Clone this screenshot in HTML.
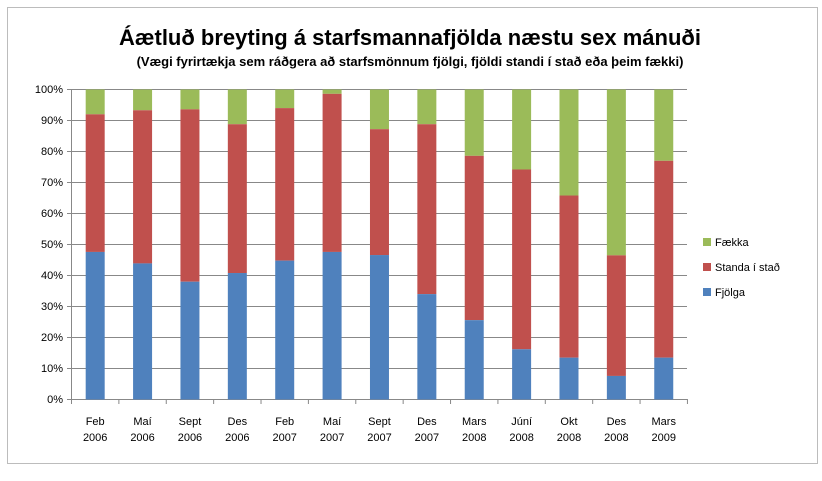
<!DOCTYPE html>
<html><head><meta charset="utf-8"><style>
body{margin:0;background:#fff;width:822px;height:476px;overflow:hidden;font-family:"Liberation Sans",sans-serif}
</style></head><body>
<svg width="822" height="476" xmlns="http://www.w3.org/2000/svg" font-family="Liberation Sans, sans-serif">
<rect x="7.5" y="7.5" width="810" height="456" fill="#fff" stroke="#bcbcbc"/>
<text x="410" y="45" text-anchor="middle" font-size="22" font-weight="bold" fill="#000">Áætluð breyting á starfsmannafjölda næstu sex mánuði</text>
<text x="410" y="66" text-anchor="middle" font-size="13" font-weight="bold" fill="#000">(Vægi fyrirtækja sem ráðgera að starfsmönnum fjölgi, fjöldi standi í stað eða þeim fækki)</text>
<g id="grid" stroke="#888" stroke-width="1">
<line x1="67" y1="89.5" x2="687" y2="89.5"/><line x1="67" y1="120.5" x2="687" y2="120.5"/><line x1="67" y1="151.5" x2="687" y2="151.5"/><line x1="67" y1="182.5" x2="687" y2="182.5"/><line x1="67" y1="213.5" x2="687" y2="213.5"/><line x1="67" y1="244.5" x2="687" y2="244.5"/><line x1="67" y1="275.5" x2="687" y2="275.5"/><line x1="67" y1="306.5" x2="687" y2="306.5"/><line x1="67" y1="337.5" x2="687" y2="337.5"/><line x1="67" y1="368.5" x2="687" y2="368.5"/><line x1="67" y1="399.5" x2="687" y2="399.5"/>
<line x1="71.5" y1="89" x2="71.5" y2="404"/>
</g>
<g font-size="11" fill="#000" text-anchor="end">
<text x="63" y="93">100%</text><text x="63" y="124">90%</text><text x="63" y="155">80%</text><text x="63" y="186">70%</text><text x="63" y="217">60%</text><text x="63" y="248">50%</text><text x="63" y="279">40%</text><text x="63" y="310">30%</text><text x="63" y="341">20%</text><text x="63" y="372">10%</text><text x="63" y="403">0%</text>
</g>
<g id="bars"></g>
<g id="xl" font-size="11" fill="#000" text-anchor="middle"></g>
<g stroke="#888" id="ticks"></g>
<rect x="703" y="238" width="8" height="8" fill="#9bbb59"/><text x="715" y="246" font-size="11">Fækka</text>
<rect x="703" y="263" width="8" height="8" fill="#c0504d"/><text x="715" y="271" font-size="11">Standa í stað</text>
<rect x="703" y="288" width="8" height="8" fill="#4f81bd"/><text x="715" y="296" font-size="11">Fjölga</text>
<script>
var d=[[47.6,92,"Feb","2006"],[43.9,93.3,"Maí","2006"],[38,93.6,"Sept","2006"],[40.8,88.8,"Des","2006"],[44.8,94,"Feb","2007"],[47.6,98.6,"Maí","2007"],[46.6,87.2,"Sept","2007"],[34,88.8,"Des","2007"],[25.6,78.6,"Mars","2008"],[16.2,74.2,"Júní","2008"],[13.5,65.8,"Okt","2008"],[7.6,46.5,"Des","2008"],[13.5,77,"Mars","2009"]];
var ns="http://www.w3.org/2000/svg",b=document.getElementById("bars"),xl=document.getElementById("xl"),tk=document.getElementById("ticks");
function el(p,t,a){var e=document.createElementNS(ns,t);for(var k in a)e.setAttribute(k,a[k]);p.appendChild(e);return e;}
var w=47.38,y0=399.5,s=3.1;
for(var i=0;i<13;i++){var c=71.5+w*(i+0.5),x=c-9.5,v=d[i];
el(b,"rect",{x:x,y:89.5,width:19,height:(100-v[1])*s,fill:"#9bbb59"});
el(b,"rect",{x:x,y:y0-v[1]*s,width:19,height:(v[1]-v[0])*s,fill:"#c0504d"});
el(b,"rect",{x:x,y:y0-v[0]*s,width:19,height:v[0]*s,fill:"#4f81bd"});
el(xl,"text",{x:c,y:425}).textContent=v[2];el(xl,"text",{x:c,y:441}).textContent=v[3];
var tx=71.5+w*(i+1);el(tk,"line",{x1:tx,y1:399,x2:tx,y2:404});}
</script>
</svg>
</body></html>
